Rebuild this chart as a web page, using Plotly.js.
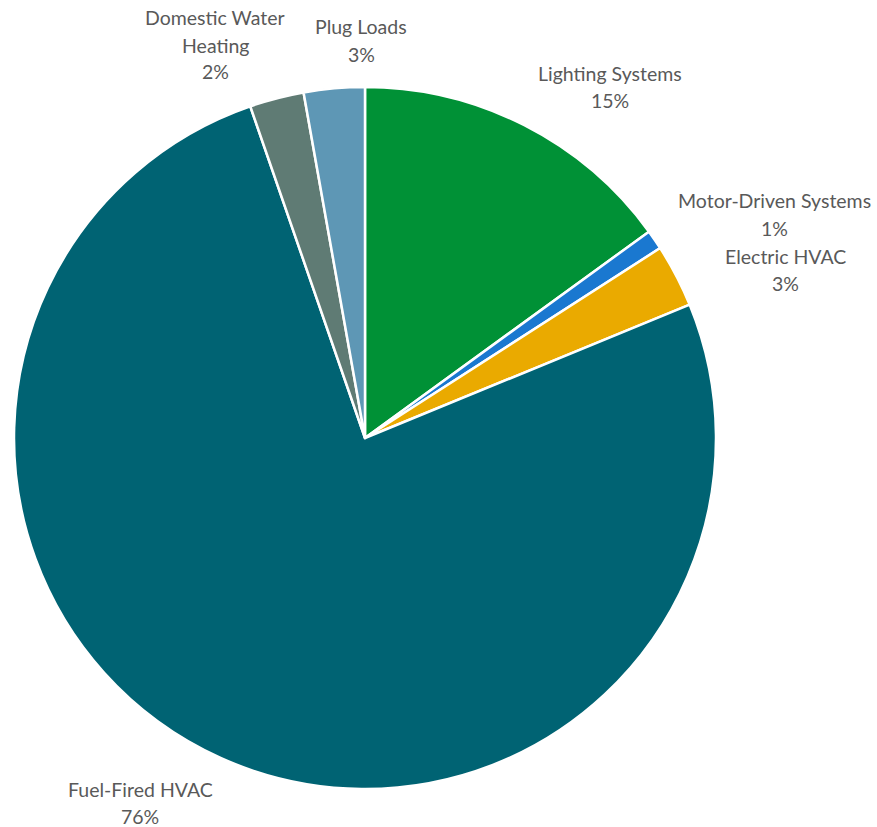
<!DOCTYPE html>
<html>
<head>
<meta charset="utf-8">
<script src="https://cdn.plot.ly/plotly-3.0.1.min.js"></script>
<style>html,body{margin:0;padding:0;background:#fff;}#chart{width:877px;height:827px;}</style>
</head>
<body>
<div id="chart"></div>
<script>
// Data (clockwise from 12 o'clock)
const categories = ["Lighting Systems", "Motor-Driven Systems", "Electric HVAC", "Fuel-Fired HVAC", "Domestic Water Heating", "Plug Loads"];
const shares = [15.0, 0.9, 2.9, 75.9, 2.5, 2.8];
const percentLabels = ["15%", "1%", "3%", "76%", "2%", "3%"];
const labelLines = [["Lighting Systems"], ["Motor-Driven Systems"], ["Electric HVAC"], ["Fuel-Fired HVAC"], ["Domestic Water", "Heating"], ["Plug Loads"]];
const colors = ["#009136", "#1a78d0", "#eaaa00", "#006373", "#5f7b74", "#5e97b5"];

// Label block anchor (top line centre, pixels) – layout only
const labelPos = [[610, 73], [774, 201], [785, 256], [140, 789], [215, 18], [361, 27]];
const W = 877, H = 827, LINE = 27;

const annotations = [];
categories.forEach((c, i) => {
  const lines = labelLines[i].concat([percentLabels[i]]);
  lines.forEach((t, k) => {
    annotations.push({
      text: t, xref: 'paper', yref: 'paper',
      x: labelPos[i][0] / W, y: 1 - (labelPos[i][1] + k * LINE) / H,
      xanchor: 'center', yanchor: 'middle', showarrow: false,
      font: {family: 'Lato, "Open Sans", sans-serif', size: 19.5, color: '#595959'}
    });
  });
});

const cx = 365, cy = 438, r = 351;
const trace = {
  type: 'pie',
  labels: categories,
  values: shares,
  sort: false,
  direction: 'clockwise',
  rotation: 0,
  textinfo: 'none',
  hoverinfo: 'label+percent',
  marker: {colors: colors, line: {color: '#ffffff', width: 2.5}},
  domain: {x: [(cx - r) / W, (cx + r) / W], y: [1 - (cy + r) / H, 1 - (cy - r) / H]}
};

Plotly.newPlot('chart', [trace], {
  width: W, height: H,
  margin: {l: 0, r: 0, t: 0, b: 0},
  showlegend: false,
  paper_bgcolor: '#ffffff',
  annotations: annotations
}, {displayModeBar: false});
</script>
</body>
</html>
